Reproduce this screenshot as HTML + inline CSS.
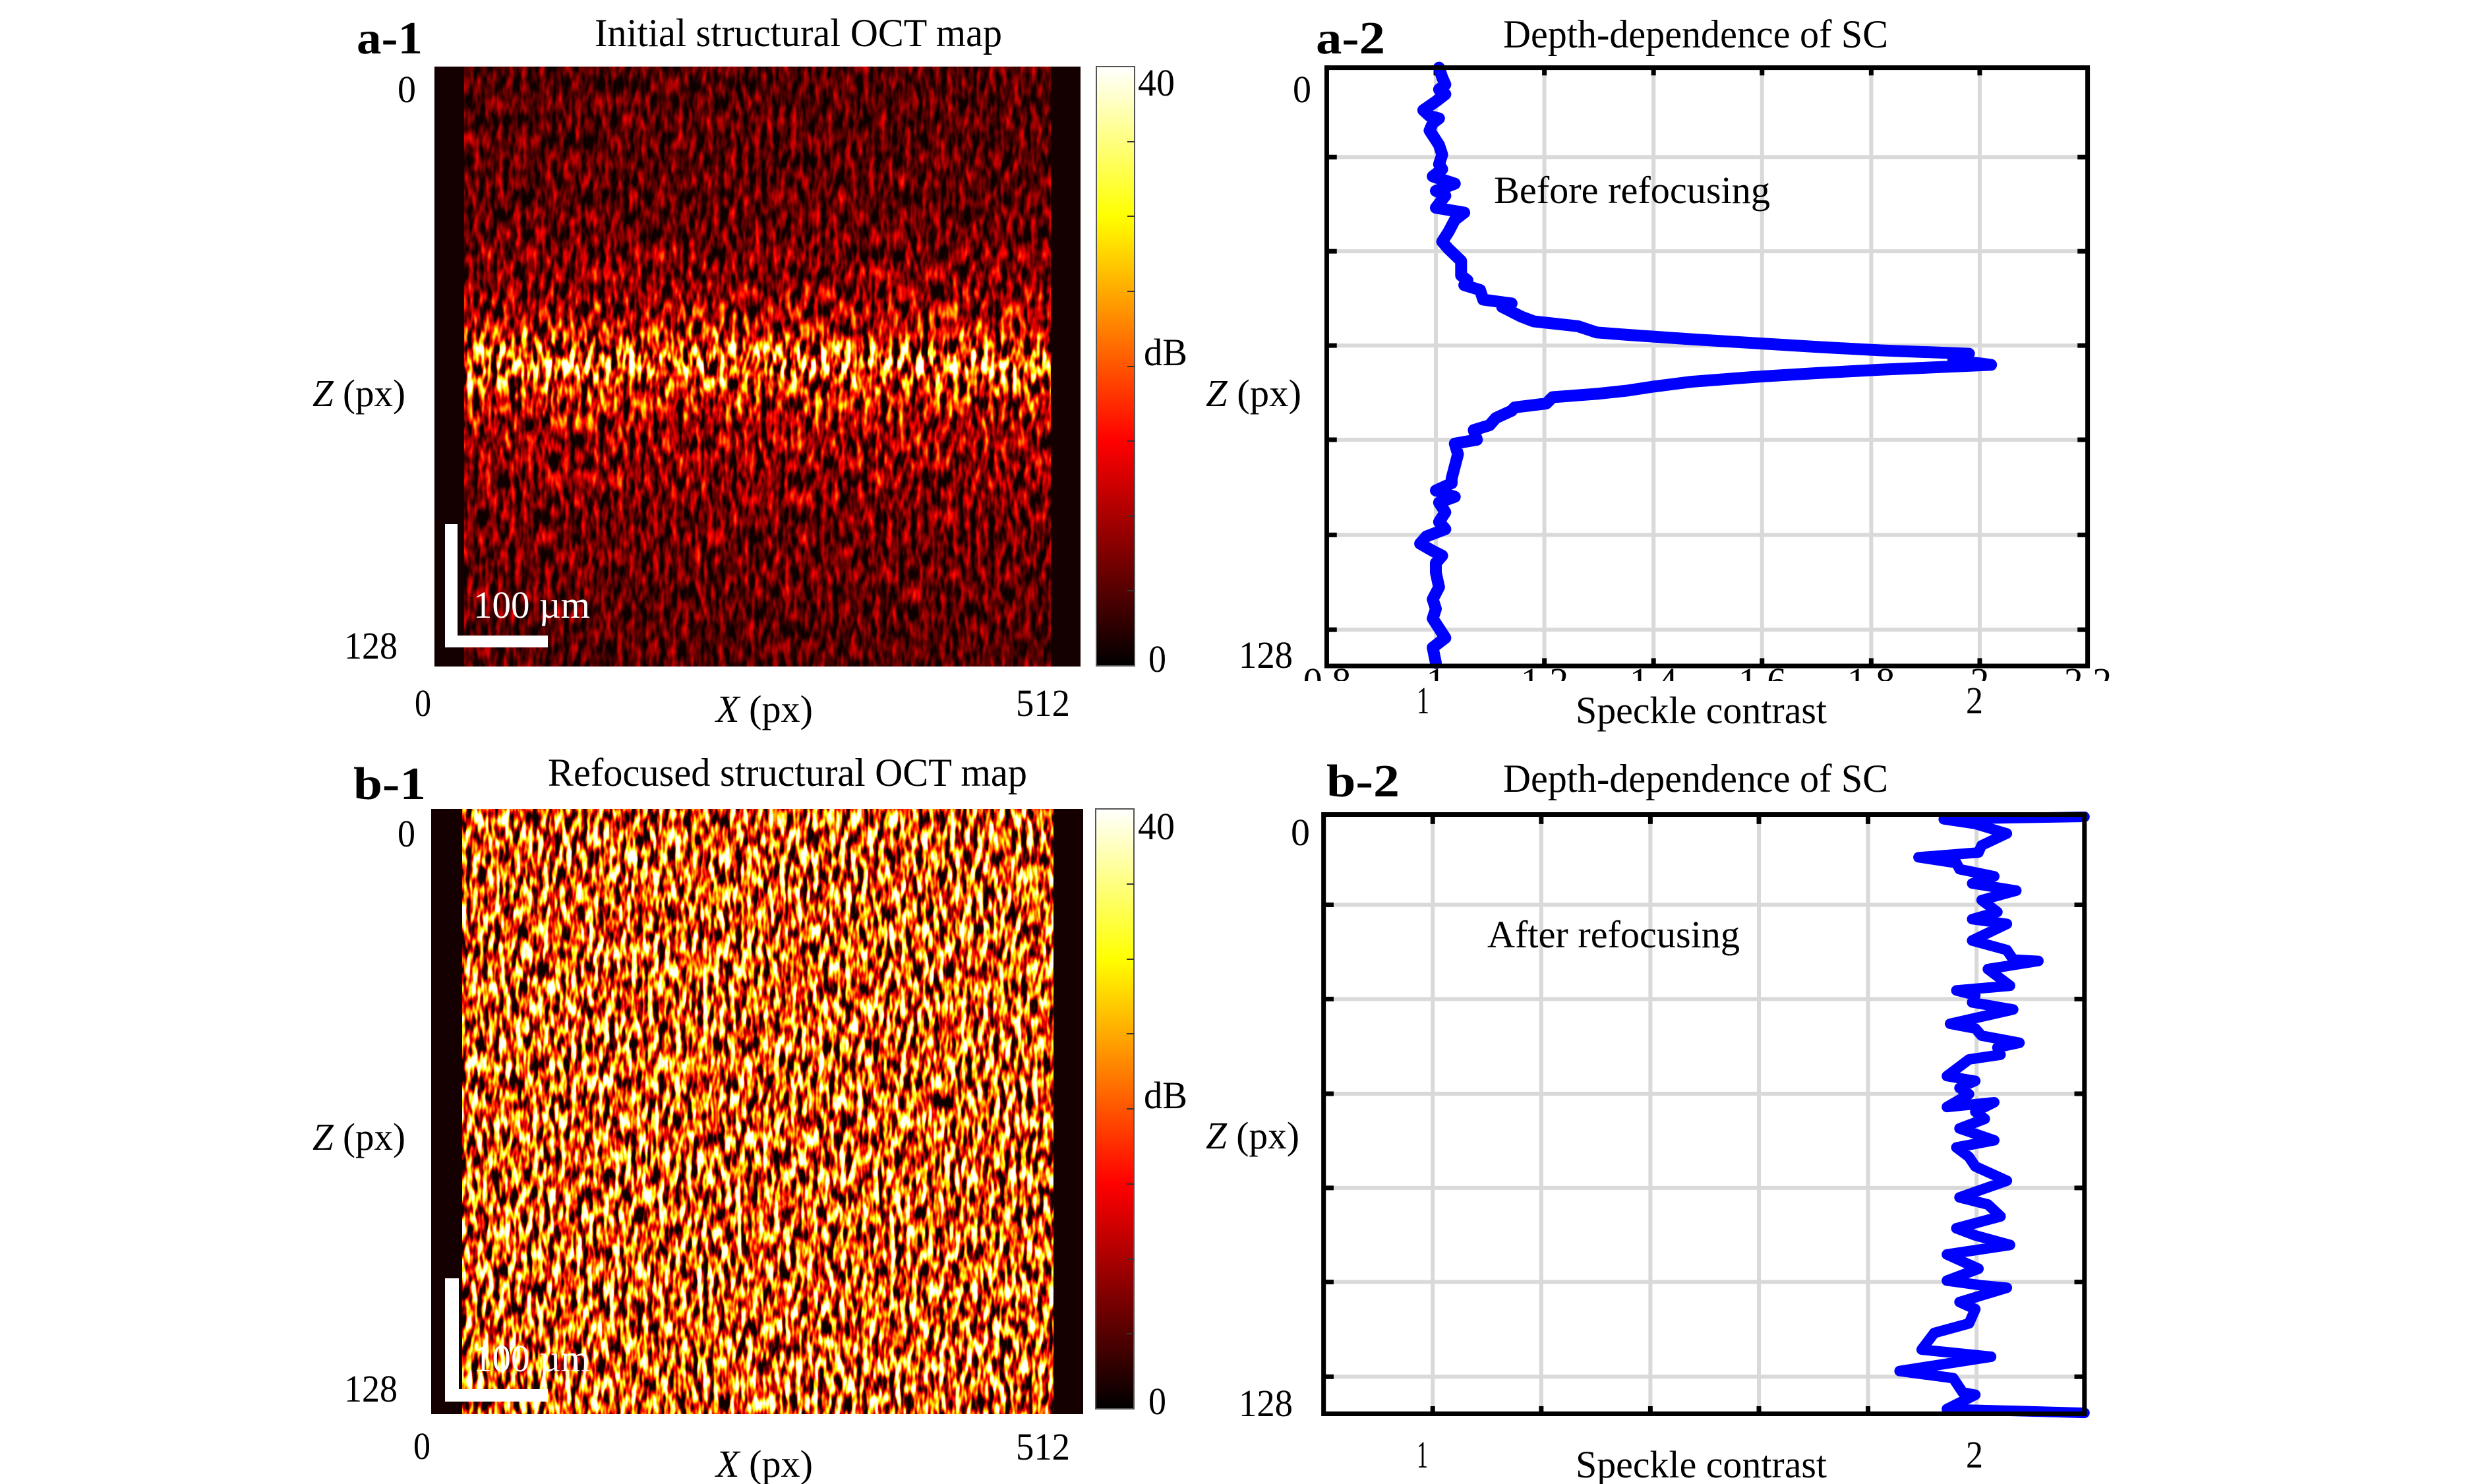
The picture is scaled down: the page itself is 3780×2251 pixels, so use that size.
<!DOCTYPE html>
<html><head><meta charset="utf-8"><style>
html,body{margin:0;padding:0;background:#fff;overflow:hidden;}
svg{display:block;}
text{font-family:"Liberation Serif","Times New Roman",Times,serif;fill:#000;}
.ns *{vector-effect:non-scaling-stroke;}
</style></head><body>
<svg width="3780" height="2251" viewBox="0 0 3780 2251" xmlns="http://www.w3.org/2000/svg" font-family="'Liberation Serif', Times, serif">
<defs>
<linearGradient id="ga" x1="0" y1="0" x2="0" y2="1">
 <stop offset="0" stop-color="rgb(38,38,38)"/>
 <stop offset="0.25" stop-color="rgb(45,45,45)"/>
 <stop offset="0.37" stop-color="rgb(65,65,65)"/>
 <stop offset="0.44" stop-color="rgb(100,100,100)"/>
 <stop offset="0.475" stop-color="rgb(160,160,160)"/>
 <stop offset="0.5" stop-color="rgb(175,175,175)"/>
 <stop offset="0.53" stop-color="rgb(130,130,130)"/>
 <stop offset="0.6" stop-color="rgb(80,80,80)"/>
 <stop offset="0.75" stop-color="rgb(52,52,52)"/>
 <stop offset="1" stop-color="rgb(38,38,38)"/>
</linearGradient>
<linearGradient id="cb" x1="0" y1="1" x2="0" y2="0">
 <stop offset="0" stop-color="#000"/>
 <stop offset="0.375" stop-color="#f00"/>
 <stop offset="0.75" stop-color="#ff0"/>
 <stop offset="1" stop-color="#fff"/>
</linearGradient>
<filter id="fa" x="0" y="0" width="1" height="1" color-interpolation-filters="sRGB">
 <feTurbulence type="fractalNoise" baseFrequency="0.11 0.035" numOctaves="2" seed="4" result="n"/>
 <feColorMatrix in="n" type="matrix" values="1 0 0 0 0  1 0 0 0 0  1 0 0 0 0  0 0 0 0 1" result="ng"/>
 <feComposite in="SourceGraphic" in2="ng" operator="arithmetic" k1="4.5" k2="-1.5" k3="0" k4="0" result="m"/>
 <feComponentTransfer in="m">
  <feFuncR type="table" tableValues="0.06 0.333 0.667 1 1 1 1 1 1"/>
  <feFuncG type="table" tableValues="0 0 0 0 0.333 0.667 1 1 1"/>
  <feFuncB type="table" tableValues="0 0 0 0 0 0 0 0.5 1"/>
  <feFuncA type="table" tableValues="1 1"/>
 </feComponentTransfer>
</filter>
<filter id="fb" x="0" y="0" width="1" height="1" color-interpolation-filters="sRGB">
 <feTurbulence type="fractalNoise" baseFrequency="0.12 0.035" numOctaves="2" seed="9" result="n"/>
 <feColorMatrix in="n" type="matrix" values="1 0 0 0 0  1 0 0 0 0  1 0 0 0 0  0 0 0 0 1" result="ng"/>
 <feComposite in="SourceGraphic" in2="ng" operator="arithmetic" k1="4.5" k2="-1.5" k3="0" k4="0" result="m"/>
 <feComponentTransfer in="m">
  <feFuncR type="table" tableValues="0.06 0.333 0.667 1 1 1 1 1 1"/>
  <feFuncG type="table" tableValues="0 0 0 0 0.333 0.667 1 1 1"/>
  <feFuncB type="table" tableValues="0 0 0 0 0 0 0 0.5 1"/>
  <feFuncA type="table" tableValues="1 1"/>
 </feComponentTransfer>
</filter>
<clipPath id="clipA"><rect x="1950" y="1013" width="1300" height="20"/></clipPath>
</defs>

<!-- ===== a-1 ===== -->
<rect x="659" y="101" width="980" height="910" fill="#140000"/>
<rect x="704" y="101" width="890" height="910" fill="url(#ga)" filter="url(#fa)"/>
<rect x="1663" y="101" width="58" height="909" fill="url(#cb)" stroke="#555" stroke-width="2"/>
<g stroke="#333" stroke-width="2">
<line x1="1710" y1="215" x2="1721" y2="215"/><line x1="1710" y1="328" x2="1721" y2="328"/>
<line x1="1710" y1="442" x2="1721" y2="442"/><line x1="1710" y1="556" x2="1721" y2="556"/>
<line x1="1710" y1="669" x2="1721" y2="669"/><line x1="1710" y1="783" x2="1721" y2="783"/>
<line x1="1710" y1="896" x2="1721" y2="896"/>
</g>
<rect x="675" y="795" width="19" height="187" fill="#fff"/>
<rect x="675" y="964" width="156" height="18" fill="#fff"/>
<text x="718" y="937" font-size="58" textLength="177" lengthAdjust="spacingAndGlyphs" style="fill:#fff">100 µm</text>
<text x="541" y="81" font-size="70" font-weight="bold" textLength="100" lengthAdjust="spacingAndGlyphs">a-1</text>
<text x="902" y="70" font-size="60" textLength="618" lengthAdjust="spacingAndGlyphs">Initial structural OCT map</text>
<text x="603" y="155" font-size="58" textLength="28" lengthAdjust="spacingAndGlyphs">0</text>
<text x="522" y="999" font-size="58" textLength="81" lengthAdjust="spacingAndGlyphs">128</text>
<text x="474" y="616" font-size="58" textLength="141" lengthAdjust="spacingAndGlyphs"><tspan font-style="italic">Z</tspan> (px)</text>
<text x="629" y="1086" font-size="58" textLength="25" lengthAdjust="spacingAndGlyphs">0</text>
<text x="1086" y="1095" font-size="58" textLength="147" lengthAdjust="spacingAndGlyphs"><tspan font-style="italic">X</tspan> (px)</text>
<text x="1541" y="1086" font-size="58" textLength="82" lengthAdjust="spacingAndGlyphs">512</text>
<text x="1726" y="145" font-size="58" textLength="56" lengthAdjust="spacingAndGlyphs">40</text>
<text x="1735" y="554" font-size="58" textLength="66" lengthAdjust="spacingAndGlyphs">dB</text>
<text x="1742" y="1019" font-size="58" textLength="27" lengthAdjust="spacingAndGlyphs">0</text>

<!-- ===== b-1 ===== -->
<rect x="654" y="1227" width="989" height="918" fill="#140000"/>
<rect x="701" y="1227" width="897" height="918" fill="rgb(162,162,162)" filter="url(#fb)"/>
<rect x="1662" y="1227" width="58" height="910" fill="url(#cb)" stroke="#555" stroke-width="2"/>
<g stroke="#333" stroke-width="2">
<line x1="1709" y1="1341" x2="1720" y2="1341"/><line x1="1709" y1="1455" x2="1720" y2="1455"/>
<line x1="1709" y1="1568" x2="1720" y2="1568"/><line x1="1709" y1="1682" x2="1720" y2="1682"/>
<line x1="1709" y1="1796" x2="1720" y2="1796"/><line x1="1709" y1="1910" x2="1720" y2="1910"/>
<line x1="1709" y1="2023" x2="1720" y2="2023"/>
</g>
<rect x="675" y="1939" width="21" height="187" fill="#fff"/>
<rect x="675" y="2107" width="156" height="19" fill="#fff"/>
<text x="718" y="2080" font-size="58" textLength="177" lengthAdjust="spacingAndGlyphs" style="fill:#fff">100 µm</text>
<text x="536" y="1212" font-size="70" font-weight="bold" textLength="110" lengthAdjust="spacingAndGlyphs">b-1</text>
<text x="831" y="1192" font-size="60" textLength="727" lengthAdjust="spacingAndGlyphs">Refocused structural OCT map</text>
<text x="603" y="1284" font-size="58" textLength="27" lengthAdjust="spacingAndGlyphs">0</text>
<text x="522" y="2126" font-size="58" textLength="81" lengthAdjust="spacingAndGlyphs">128</text>
<text x="474" y="1744" font-size="58" textLength="141" lengthAdjust="spacingAndGlyphs"><tspan font-style="italic">Z</tspan> (px)</text>
<text x="627" y="2213" font-size="58" textLength="26" lengthAdjust="spacingAndGlyphs">0</text>
<text x="1086" y="2240" font-size="58" textLength="147" lengthAdjust="spacingAndGlyphs"><tspan font-style="italic">X</tspan> (px)</text>
<text x="1541" y="2214" font-size="58" textLength="82" lengthAdjust="spacingAndGlyphs">512</text>
<text x="1726" y="1273" font-size="58" textLength="56" lengthAdjust="spacingAndGlyphs">40</text>
<text x="1735" y="1681" font-size="58" textLength="66" lengthAdjust="spacingAndGlyphs">dB</text>
<text x="1742" y="2145" font-size="58" textLength="27" lengthAdjust="spacingAndGlyphs">0</text>

<!-- ===== a-2 ===== -->
<g class="ns" transform="translate(1800,0) scale(0.957,0.733)">
 <g stroke="#d9d9d9" stroke-width="6">
  <line x1="395" y1="140" x2="395" y2="1378"/><line x1="567" y1="140" x2="567" y2="1378"/>
  <line x1="740" y1="140" x2="740" y2="1378"/><line x1="912" y1="140" x2="912" y2="1378"/>
  <line x1="1085" y1="140" x2="1085" y2="1378"/><line x1="1257" y1="140" x2="1257" y2="1378"/>
  <line x1="222" y1="325" x2="1428" y2="325"/><line x1="222" y1="520" x2="1428" y2="520"/>
  <line x1="222" y1="715" x2="1428" y2="715"/><line x1="222" y1="910" x2="1428" y2="910"/>
  <line x1="222" y1="1107" x2="1428" y2="1107"/><line x1="222" y1="1303" x2="1428" y2="1303"/>
 </g>
 <path stroke="#000" stroke-width="7" fill="none" d="M395 140v16M567 140v16M740 140v16M912 140v16M1085 140v16M1257 140v16
  M395 1378v-16M567 1378v-16M740 1378v-16M912 1378v-16M1085 1378v-16M1257 1378v-16
  M222 325h16M222 520h16M222 715h16M222 910h16M222 1107h16M222 1303h16
  M1428 325h-16M1428 520h-16M1428 715h-16M1428 910h-16M1428 1107h-16M1428 1303h-16"/>
 <polyline fill="none" stroke="#0000ff" stroke-width="18" stroke-linejoin="round" stroke-linecap="round" points="400,140 405,160 410,175 400,185 410,195 395,210 375,228 385,240 400,245 390,255 385,270 395,290 400,300 405,320 400,340 405,350 390,365 425,380 395,395 410,405 395,430 440,440 425,455 415,480 405,500 415,515 435,540 435,570 445,580 440,590 465,600 470,620 515,628 500,635 530,655 550,665 620,675 650,688 700,693 800,702 900,710 1000,718 1100,725 1240,732 1215,745 1275,755 1100,765 1000,772 900,780 800,790 740,800 700,808 650,815 580,822 570,835 520,843 515,850 490,865 480,880 455,890 460,910 425,918 430,940 425,965 420,990 420,1000 395,1015 425,1028 400,1040 410,1060 400,1080 410,1095 380,1110 370,1125 390,1140 405,1150 395,1165 395,1185 400,1215 390,1240 395,1260 390,1280 410,1320 390,1340 395,1372"/>
 <rect x="222" y="140" width="1206" height="1238" fill="none" stroke="#000" stroke-width="7"/>
</g>
<g clip-path="url(#clipA)" font-size="58" text-anchor="middle">
 <text x="2013" y="1053">0.8</text><text x="2178" y="1053">1</text><text x="2343" y="1053">1.2</text>
 <text x="2508" y="1053">1.4</text><text x="2673" y="1053">1.6</text><text x="2838" y="1053">1.8</text>
 <text x="3003" y="1053">2</text><text x="3167" y="1053">2.2</text>
</g>
<text x="1996" y="81" font-size="70" font-weight="bold" textLength="105" lengthAdjust="spacingAndGlyphs">a-2</text>
<text x="2280" y="72" font-size="60" textLength="584" lengthAdjust="spacingAndGlyphs">Depth-dependence of SC</text>
<text x="1961" y="155" font-size="58" textLength="28" lengthAdjust="spacingAndGlyphs">0</text>
<text x="1879" y="1013" font-size="58" textLength="82" lengthAdjust="spacingAndGlyphs">128</text>
<text x="1829" y="616" font-size="58" textLength="145" lengthAdjust="spacingAndGlyphs"><tspan font-style="italic">Z</tspan> (px)</text>
<text x="2266" y="308" font-size="58" textLength="419" lengthAdjust="spacingAndGlyphs">Before refocusing</text>
<text x="2149" y="1082" font-size="58" textLength="19" lengthAdjust="spacingAndGlyphs">1</text>
<text x="2982" y="1082" font-size="58" textLength="26" lengthAdjust="spacingAndGlyphs">2</text>
<text x="2390" y="1097" font-size="58" textLength="381" lengthAdjust="spacingAndGlyphs">Speckle contrast</text>

<!-- ===== b-2 ===== -->
<g class="ns" transform="translate(1800,1120) scale(0.957,0.7215)">
 <g stroke="#d9d9d9" stroke-width="6">
  <line x1="390" y1="160" x2="390" y2="1420"/><line x1="562" y1="160" x2="562" y2="1420"/>
  <line x1="735" y1="160" x2="735" y2="1420"/><line x1="907" y1="160" x2="907" y2="1420"/>
  <line x1="1080" y1="160" x2="1080" y2="1420"/><line x1="1252" y1="160" x2="1252" y2="1420"/>
  <line x1="217" y1="350" x2="1423" y2="350"/><line x1="217" y1="548" x2="1423" y2="548"/>
  <line x1="217" y1="747" x2="1423" y2="747"/><line x1="217" y1="945" x2="1423" y2="945"/>
  <line x1="217" y1="1143" x2="1423" y2="1143"/><line x1="217" y1="1342" x2="1423" y2="1342"/>
 </g>
 <path stroke="#000" stroke-width="7" fill="none" d="M390 160v20M562 160v20M735 160v20M907 160v20M1080 160v20M1252 160v20
  M390 1420v-16M562 1420v-16M735 1420v-16M907 1420v-16M1080 1420v-16M1252 1420v-16
  M217 350h16M217 548h16M217 747h16M217 945h16M217 1143h16M217 1342h16
  M1423 350h-16M1423 548h-16M1423 747h-16M1423 945h-16M1423 1143h-16M1423 1342h-16"/>
 <polyline fill="none" stroke="#0000ff" stroke-width="16" stroke-linejoin="round" stroke-linecap="round" points="1423,165 1200,170 1250,180 1300,200 1260,225 1255,240 1160,250 1220,262 1225,275 1280,290 1245,305 1315,320 1260,340 1285,365 1245,380 1300,390 1245,425 1300,445 1310,465 1350,468 1270,485 1305,520 1220,530 1250,540 1245,555 1310,570 1210,600 1250,610 1260,625 1320,640 1285,650 1290,665 1240,675 1205,710 1250,720 1225,735 1240,748 1205,775 1280,765 1250,785 1265,800 1225,820 1280,845 1220,860 1240,880 1250,900 1300,930 1225,965 1270,980 1290,1005 1220,1030 1250,1045 1305,1065 1205,1085 1255,1115 1205,1140 1260,1150 1300,1155 1225,1185 1250,1200 1240,1230 1185,1250 1165,1285 1275,1300 1130,1330 1215,1345 1230,1375 1250,1380 1205,1410 1423,1418"/>
 <rect x="217" y="160" width="1206" height="1260" fill="none" stroke="#000" stroke-width="7"/>
</g>
<text x="2012" y="1208" font-size="70" font-weight="bold" textLength="111" lengthAdjust="spacingAndGlyphs">b-2</text>
<text x="2280" y="1201" font-size="60" textLength="584" lengthAdjust="spacingAndGlyphs">Depth-dependence of SC</text>
<text x="1958" y="1282" font-size="58" textLength="29" lengthAdjust="spacingAndGlyphs">0</text>
<text x="1879" y="2148" font-size="58" textLength="82" lengthAdjust="spacingAndGlyphs">128</text>
<text x="1829" y="1742" font-size="58" textLength="142" lengthAdjust="spacingAndGlyphs"><tspan font-style="italic">Z</tspan> (px)</text>
<text x="2256" y="1437" font-size="58" textLength="383" lengthAdjust="spacingAndGlyphs">After refocusing</text>
<text x="2149" y="2226" font-size="58" textLength="17" lengthAdjust="spacingAndGlyphs">1</text>
<text x="2982" y="2226" font-size="58" textLength="26" lengthAdjust="spacingAndGlyphs">2</text>
<text x="2390" y="2241" font-size="58" textLength="381" lengthAdjust="spacingAndGlyphs">Speckle contrast</text>
</svg>
</body></html>
